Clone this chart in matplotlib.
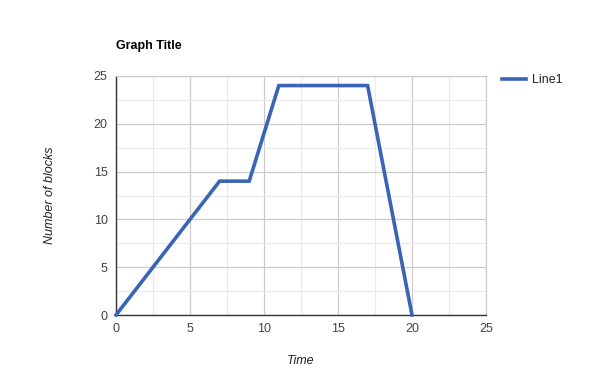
import matplotlib
matplotlib.use("Agg")
import matplotlib.pyplot as plt
from matplotlib.ticker import MultipleLocator

plt.rcParams['font.family'] = ['Liberation Sans', 'DejaVu Sans']

x_time = [0, 7, 9, 11, 17, 20]
y_blocks = [0, 14, 14, 24, 24, 0]
series_name = "Line1"
title = "Graph Title"
x_label = "Time"
y_label = "Number of blocks"

fig = plt.figure(figsize=(6, 3.9), dpi=100)
ax = fig.add_axes([116/600, 1-315/390, (486-116)/600, (315-76)/390])

ax.plot(x_time, y_blocks, color='#3a64b4', lw=2.6, solid_joinstyle='miter', label=series_name, clip_on=False, zorder=5)

ax.set_xlim(0, 25)
ax.set_ylim(0, 25)
ax.xaxis.set_major_locator(MultipleLocator(5))
ax.yaxis.set_major_locator(MultipleLocator(5))
ax.xaxis.set_minor_locator(MultipleLocator(2.5))
ax.yaxis.set_minor_locator(MultipleLocator(2.5))
ax.grid(which='major', color='#cccccc', lw=0.9)
ax.grid(which='minor', color='#ebebeb', lw=0.9)
ax.set_axisbelow(True)
for s in ['top', 'right']:
    ax.spines[s].set_color('#cccccc')
    ax.spines[s].set_linewidth(0.9)
for s in ['left', 'bottom']:
    ax.spines[s].set_color('#333333')
    ax.spines[s].set_linewidth(1.0)
ax.tick_params(which='both', length=0, labelsize=9, labelcolor='#444444', pad=6)

ax.set_xlabel(x_label, fontsize=9, style='italic', color='#222222', labelpad=14)
ax.set_ylabel(y_label, fontsize=9, style='italic', color='#222222', labelpad=27)
fig.text(116/600, 1-46/390, title, fontsize=9, fontweight='bold', color='#000000', va='center', ha='left')

fig.legend(handles=ax.get_lines(), labels=[series_name], loc='center left',
           bbox_to_anchor=(491/600, 1-80/390), frameon=False, fontsize=9,
           handlelength=1.9, handletextpad=0.5, labelcolor='#222222')

fig.savefig("out.png", dpi=100)
